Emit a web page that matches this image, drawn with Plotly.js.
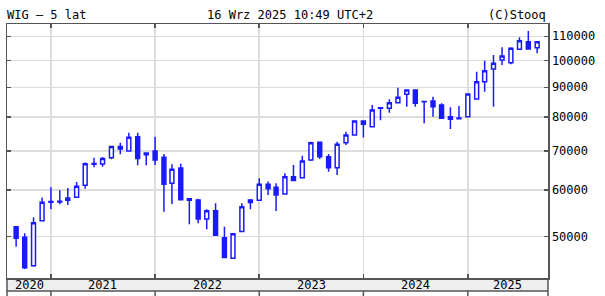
<!DOCTYPE html>
<html>
<head>
<meta charset="utf-8">
<script src="https://cdn.plot.ly/plotly-3.0.1.min.js"></script>
<style>
html,body{margin:0;padding:0;background:#fff;}
#chart{width:605px;height:296px;}
</style>
</head>
<body>
<div id="chart"></div>
<script>
const months = ['2020-09-01','2020-10-01','2020-11-01','2020-12-01',
'2021-01-01','2021-02-01','2021-03-01','2021-04-01','2021-05-01','2021-06-01','2021-07-01','2021-08-01','2021-09-01','2021-10-01','2021-11-01','2021-12-01',
'2022-01-01','2022-02-01','2022-03-01','2022-04-01','2022-05-01','2022-06-01','2022-07-01','2022-08-01','2022-09-01','2022-10-01','2022-11-01','2022-12-01',
'2023-01-01','2023-02-01','2023-03-01','2023-04-01','2023-05-01','2023-06-01','2023-07-01','2023-08-01','2023-09-01','2023-10-01','2023-11-01','2023-12-01',
'2024-01-01','2024-02-01','2024-03-01','2024-04-01','2024-05-01','2024-06-01','2024-07-01','2024-08-01','2024-09-01','2024-10-01','2024-11-01','2024-12-01',
'2025-01-01','2025-02-01','2025-03-01','2025-04-01','2025-05-01','2025-06-01','2025-07-01','2025-08-01','2025-09-01'];

const openV = [51980,49850,44580,53220,
57400,57450,57680,58370,61180,66650,66530,68180,71240,70040,74080,69020,
70000,68320,61670,65500,58040,57760,53590,55370,49780,45910,50980,57160,
57680,61420,60700,59130,63280,63030,67610,72450,68480,65560,72360,74580,
78830,77070,82860,82860,84710,87530,89040,85100,85270,83930,80150,79500,
80150,85940,92000,96710,100200,99140,104500,107680,105170];

const highV = [52100,50640,53950,58290,
60700,60000,60540,62000,66890,68180,68400,71500,72360,75260,75260,69500,
74080,69180,66460,66600,58050,58050,55670,57020,51980,50600,57020,57970,
62890,62080,61670,64130,66250,68740,72650,72650,69180,72650,75560,79040,
78900,83930,83100,85840,89850,89100,89280,85230,86710,84500,83180,83600,
87700,95690,99920,102190,105340,105340,109550,112300,107700];

const lowV = [48050,44010,44400,53100,
55670,56780,56620,58300,60380,65670,65840,67780,69130,70000,66200,66200,
66250,55150,56850,57700,52480,52690,51460,50200,45900,45750,50830,55670,
57600,58900,55310,59100,62300,62890,67330,67860,64540,63710,71700,74500,
73860,77000,79040,81430,84500,83370,83370,78120,80150,79600,76370,79350,
80000,85900,88450,83370,98240,98510,104400,104600,102880];

const closeV = [49660,44230,52810,57230,
57250,57300,58210,60950,66620,66450,67960,71240,70600,73910,67960,69480,
67610,61420,65160,57810,57680,53590,55370,50250,46020,50570,56250,57760,
61420,60380,58900,63280,62330,67330,72360,68480,65560,71910,74580,78800,
77800,82310,83000,84710,86510,89040,84500,84980,83370,79660,79350,79760,
87640,92000,96070,98910,101790,104920,108100,104630,107680];

const yTicks = [50000,60000,70000,80000,90000,100000,110000];
const yTickText = ['50000','60000','70000','80000','90000','100000','110000'];
const yearBounds = ['2021-01-01','2022-01-01','2023-01-01','2024-01-01','2025-01-01'];
const yearLabels = ['2020','2021','2022','2023','2024','2025'];
const yearLabelPos = ['2020-10-19','2021-07-02','2022-07-02','2023-07-02','2024-07-02','2025-05-21'];

const candleColor = '#1a1aff';
const frameColor = '#555555';
const mono = 'DejaVu Sans Mono, monospace';

const trace = {
  type: 'candlestick',
  x: months, open: openV, high: highV, low: lowV, close: closeV,
  increasing: {line: {color: candleColor, width: 1.5}, fillcolor: '#ffffff'},
  decreasing: {line: {color: candleColor, width: 1.5}, fillcolor: candleColor},
  whiskerwidth: 0,
  hoverinfo: 'skip',
  showlegend: false
};

const shapes = [];
// year band below the plot
shapes.push({type:'rect', xref:'paper', yref:'paper', x0:0, x1:1, y0:-0.0512, y1:0,
  fillcolor:'#eeeeee', line:{width:0}, layer:'below'});
shapes.push({type:'line', xref:'paper', yref:'paper', x0:0, x1:1, y0:-0.0512, y1:-0.0512,
  line:{color:frameColor, width:1.5}});
// frame sides extending down through band
shapes.push({type:'line', xref:'paper', yref:'paper', x0:0, x1:0, y0:-0.08, y1:0,
  line:{color:frameColor, width:1.5}});
shapes.push({type:'line', xref:'paper', yref:'paper', x0:1, x1:1, y0:-0.08, y1:0,
  line:{color:frameColor, width:1.5}});
// ticks below band
yearBounds.forEach(d => {
  shapes.push({type:'line', xref:'x', yref:'paper', x0:d, x1:d, y0:-0.08, y1:-0.0512,
    line:{color:frameColor, width:1.5}});
});

const annotations = [
  {text:'WIG – 5 lat', xref:'paper', yref:'paper', x:(5-7)/540.7, y:1.035, xanchor:'left', yanchor:'middle', showarrow:false, font:{family:mono, size:12, color:'#000'}},
  {text:'16 Wrz 2025 10:49 UTC+2', xref:'paper', yref:'paper', x:(290-7)/540.7, y:1.035, xanchor:'center', yanchor:'middle', showarrow:false, font:{family:mono, size:12, color:'#000'}},
  {text:'(C)Stooq', xref:'paper', yref:'paper', x:1.0, y:1.035, xanchor:'right', yanchor:'middle', showarrow:false, font:{family:mono, size:12, color:'#000'}}
];
yearLabels.forEach((t, i) => {
  annotations.push({text:t, xref:'x', yref:'paper', x:yearLabelPos[i], y:-0.0256, xanchor:'center', yanchor:'middle', showarrow:false, font:{family:mono, size:12, color:'#000'}});
});

const layout = {
  width: 605, height: 296,
  margin: {l:7, r:57, t:24, b:18, pad:0},
  paper_bgcolor: '#ffffff', plot_bgcolor: '#ffffff',
  font: {family: mono, size: 12, color: '#000'},
  showlegend: false,
  xaxis: {
    type: 'date',
    range: ['2020-07-31', '2025-10-09'],
    rangeslider: {visible: false},
    tickmode: 'array', tickvals: yearBounds, showticklabels: false,
    ticks: 'inside', ticklen: 4, tickwidth: 1.5, tickcolor: frameColor,
    showgrid: true, gridcolor: '#dddddd', gridwidth: 1.5,
    showline: true, linecolor: frameColor, linewidth: 1.5, mirror: 'ticks',
    zeroline: false, fixedrange: true
  },
  yaxis: {
    type: 'log', side: 'right',
    range: [Math.log10(42470), Math.log10(115450)],
    tickmode: 'array', tickvals: yTicks, ticktext: yTickText,
    ticks: 'inside', ticklen: 4, tickwidth: 1.5, tickcolor: frameColor,
    showgrid: true, gridcolor: '#dddddd', gridwidth: 1.5,
    showline: true, linecolor: frameColor, linewidth: 1.5, mirror: 'ticks',
    tickfont: {family: mono, size: 12, color: '#000'},
    zeroline: false, fixedrange: true
  },
  shapes: shapes,
  annotations: annotations
};

Plotly.newPlot('chart', [trace], layout, {staticPlot: true, displayModeBar: false});
</script>
</body>
</html>
